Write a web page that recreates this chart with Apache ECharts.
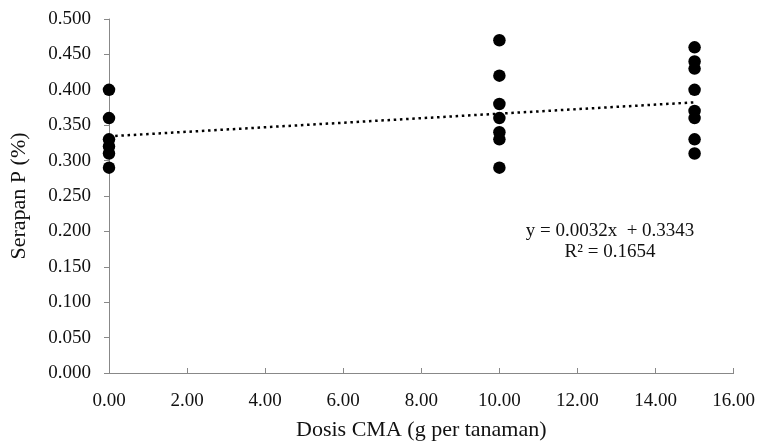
<!DOCTYPE html>
<html>
<head>
<meta charset="utf-8">
<script src="https://cdn.jsdelivr.net/npm/echarts@6/dist/echarts.min.js"></script>
<style>html,body{margin:0;padding:0;background:#fff}#c{width:758px;height:446px}</style>
</head>
<body>
<div id="c"></div>
<script>
var dose0 = [0.40, 0.36, 0.33, 0.32, 0.31, 0.29];
var dose10 = [0.47, 0.42, 0.38, 0.36, 0.34, 0.33, 0.29];
var dose15 = [0.46, 0.44, 0.43, 0.40, 0.37, 0.36, 0.33, 0.31];
var doses = [0, 10, 15];
var trendSlope = 0.0032;
var trendIntercept = 0.3343;
var trendRange = [0, 15];
var eqText = ['y = 0.0032x  + 0.3343', 'R² = 0.1654'];

var groups = [dose0, dose10, dose15];
var pts = [];
groups.forEach(function (g, i) { g.forEach(function (v) { pts.push([doses[i], v]); }); });
var trend = trendRange.map(function (x) { return [x, trendIntercept + trendSlope * x]; });

var font = '"Liberation Serif", "Times New Roman", serif';
var chart = echarts.init(document.getElementById('c'));
chart.setOption({
  animation: false,
  grid: { left: 109, right: 22, top: 19, bottom: 69 },
  xAxis: {
    type: 'value', min: 0, max: 16, interval: 2,
    name: 'Dosis CMA (g per tanaman)', nameLocation: 'middle', nameGap: 46,
    nameTextStyle: { fontFamily: font, fontSize: 22, color: '#111' },
    axisLine: { show: true, lineStyle: { color: '#888', width: 1 } },
    axisTick: { show: true, inside: true, length: 5, lineStyle: { color: '#888' } },
    axisLabel: { fontFamily: font, fontSize: 19, color: '#111', margin: 19,
      formatter: function (v) { return v.toFixed(2); } },
    splitLine: { show: false }
  },
  yAxis: {
    type: 'value', min: 0, max: 0.5, interval: 0.05,
    name: 'Serapan P (%)', nameLocation: 'middle', nameGap: 79,
    nameTextStyle: { fontFamily: font, fontSize: 22, color: '#111' },
    axisLine: { show: true, lineStyle: { color: '#888', width: 1 } },
    axisTick: { show: true, inside: false, length: 5, lineStyle: { color: '#888' } },
    axisLabel: { fontFamily: font, fontSize: 19, color: '#111', margin: 18,
      formatter: function (v) { return v.toFixed(3); } },
    splitLine: { show: false }
  },
  series: [
    {
      type: 'line', data: trend, symbol: 'none', z: 3,
      lineStyle: { type: [2.5, 3.7], width: 2.5, color: '#000' }
    },
    {
      type: 'scatter', data: pts, symbol: 'circle', symbolSize: 12.5, z: 4,
      itemStyle: { color: '#000', opacity: 1 }
    }
  ],
  graphic: [
    { type: 'text', x: 610, y: 231, style: { text: eqText[0], font: '19px ' + font, fill: '#111', align: 'center', verticalAlign: 'middle' } },
    { type: 'text', x: 610, y: 252, style: { text: eqText[1], font: '19px ' + font, fill: '#111', align: 'center', verticalAlign: 'middle' } }
  ]
});
</script>
</body>
</html>
